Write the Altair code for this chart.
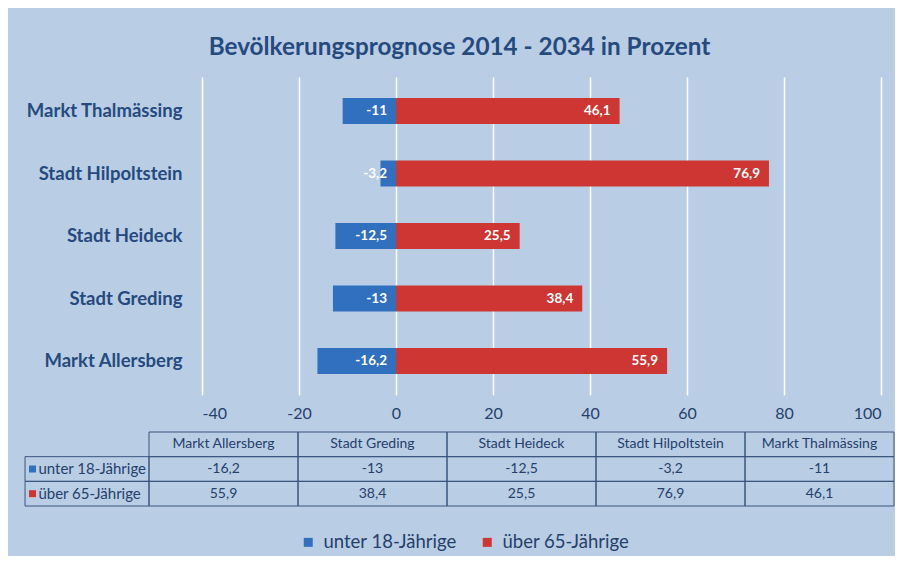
import altair as alt
import pandas as pd

# ---------------- data ----------------
categories = ["Markt Allersberg", "Stadt Greding", "Stadt Heideck",
              "Stadt Hilpoltstein", "Markt Thalmässing"]
series_names = ["unter 18-Jährige", "über 65-Jährige"]
unter_18 = [-16.2, -13, -12.5, -3.2, -11]
ueber_65 = [55.9, 38.4, 25.5, 76.9, 46.1]
x_ticks = [-40, -20, 0, 20, 40, 60, 80, 100]
title_text = "Bevölkerungsprognose 2014 - 2034 in Prozent"

# ---------------- style ----------------
BG = "#B9CDE5"
BLUE = "#3170BE"
RED = "#CD3633"
NAVY = "#264A7D"
TXT = "#26406A"
GRIDC = "#FFFFFF"
BORDER = "#3A557E"
FONT = "Lato"

rows = []
for i, c in enumerate(categories):
    rows.append({"cat": c, "series": series_names[0], "value": unter_18[i]})
    rows.append({"cat": c, "series": series_names[1], "value": ueber_65[i]})
df = pd.DataFrame(rows)

y_order = categories[::-1]
color_scale = alt.Scale(domain=series_names, range=[BLUE, RED])

base = alt.Chart(df)
bars = base.mark_bar().encode(
    x=alt.X("value:Q", stack=None,
            scale=alt.Scale(domain=[-40, 100], nice=False, zero=True),
            axis=alt.Axis(values=x_ticks, title=None, domain=False, ticks=False,
                          grid=True, gridColor=GRIDC, gridWidth=1.5,
                          labelFontSize=16, labelColor=TXT, labelFont=FONT,
                          labelPadding=10, labelExpr="'' + datum.value")),
    y=alt.Y("cat:N", sort=y_order,
            scale=alt.Scale(paddingInner=0.584, paddingOuter=0.336),
            axis=alt.Axis(title=None, domain=False, ticks=False,
                          labelFontSize=18.5, labelFontWeight="bold",
                          labelColor=NAVY, labelFont=FONT, labelPadding=20,
                          labelLimit=300)),
    color=alt.Color("series:N", scale=color_scale, legend=None),
)
bar_labels = base.transform_calculate(
    pos="datum.value > 0 ? datum.value : 0",
    txt="replace(toString(datum.value), '.', ',')",
).mark_text(align="right", dx=-9, color="white", fontWeight="bold",
            fontSize=13.5, font=FONT).encode(
    x="pos:Q", y=alt.Y("cat:N", sort=y_order), text="txt:N")

bar_chart = alt.layer(bars, bar_labels).properties(width=679, height=318)

# ---------------- data table ----------------
LABEL_W = 0.832  # width of the row-label column, in column units
row_keys = ["head"] + series_names
cells = []
for i, c in enumerate(categories):
    cells.append({"row": "head", "x0": i, "x1": i + 1, "txt": c})
    cells.append({"row": series_names[0], "x0": i, "x1": i + 1,
                  "txt": str(unter_18[i]).replace(".", ",")})
    cells.append({"row": series_names[1], "x0": i, "x1": i + 1,
                  "txt": str(ueber_65[i]).replace(".", ",")})
cell_df = pd.DataFrame(cells)
lab_df = pd.DataFrame([{"row": s, "series": s, "x0": -LABEL_W, "x1": 0,
                        "sq": -LABEL_W + 0.05, "tx": -LABEL_W + 0.09}
                       for s in series_names])

tx_scale = alt.Scale(domain=[0, 5], range=[-53, 692], nice=False, zero=False)
ty = alt.Y("row:N", sort=row_keys, axis=None,
           scale=alt.Scale(paddingInner=0, paddingOuter=0))

cell_rect = alt.Chart(cell_df).mark_rect(
    fillOpacity=0, stroke=BORDER, strokeWidth=1).encode(
    x=alt.X("x0:Q", scale=tx_scale, axis=None), x2="x1:Q", y=ty)
cell_text = alt.Chart(cell_df).transform_calculate(
    xm="(datum.x0 + datum.x1) / 2").mark_text(
    fontSize=14, font=FONT, color=TXT).encode(
    x=alt.X("xm:Q", scale=tx_scale, axis=None), y=ty, text="txt:N")
lab_rect = alt.Chart(lab_df).mark_rect(
    fillOpacity=0, stroke=BORDER, strokeWidth=1).encode(
    x=alt.X("x0:Q", scale=tx_scale, axis=None), x2="x1:Q", y=ty)
lab_sq = alt.Chart(lab_df).mark_square(size=49, opacity=1).encode(
    x=alt.X("sq:Q", scale=tx_scale, axis=None), y=ty,
    color=alt.Color("series:N", scale=color_scale,
                    legend=alt.Legend(orient="none", legendX=97, legendY=101,
                                      direction="horizontal", title=None,
                                      symbolType="square", symbolSize=81,
                                      symbolStrokeWidth=0,
                                      labelFontSize=18.5, labelFont=FONT,
                                      labelColor=TXT, columnPadding=21,
                                      labelOffset=6)))
lab_text = alt.Chart(lab_df).mark_text(
    align="left", fontSize=15, font=FONT, color=TXT).encode(
    x=alt.X("tx:Q", scale=tx_scale, axis=None), y=ty, text="series:N")

table_chart = alt.layer(cell_rect, cell_text, lab_rect, lab_sq,
                        lab_text).properties(width=692, height=74)

chart = alt.vconcat(bar_chart, table_chart, spacing=10).resolve_scale(
    x="independent", y="independent", color="independent"
).resolve_legend(color="independent").properties(
    title=alt.TitleParams(title_text, fontSize=24.3, font=FONT,
                          fontWeight="bold", color=NAVY, anchor="middle",
                          offset=17),
    padding={"left": 16, "top": 27, "right": 0, "bottom": 4},
    background=BG,
).configure_view(stroke=None)

chart.save("out.html", embed_options={"renderer": "svg", "actions": False})
